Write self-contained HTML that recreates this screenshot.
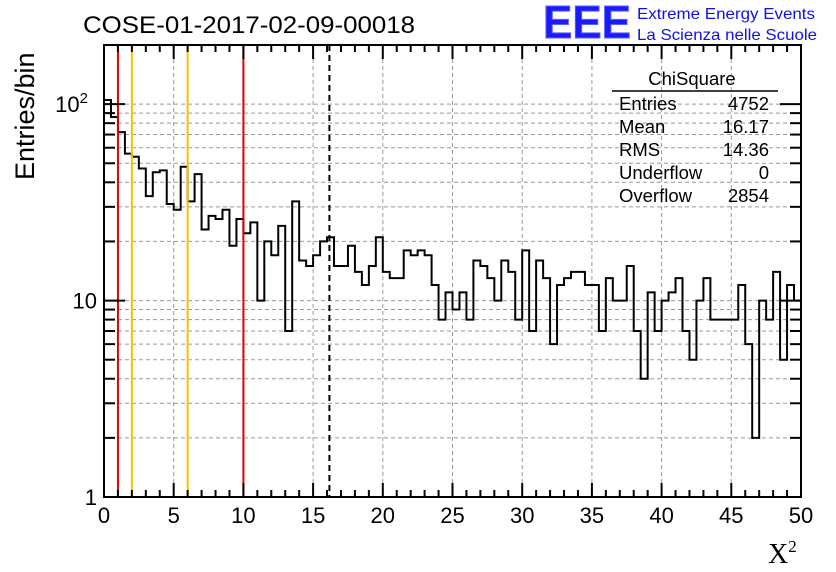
<!DOCTYPE html>
<html><head><meta charset="utf-8"><style>
body{margin:0;background:#fff;}
svg{display:block;font-family:"Liberation Sans",sans-serif;}
</style></head><body>
<svg id="c" width="836" height="572">
<text x="83" y="33" font-size="24" textLength="332" lengthAdjust="spacingAndGlyphs">COSE-01-2017-02-09-00018</text>
<g>
<text x="543" y="38" font-size="46" font-weight="bold" fill="#1a1aff" stroke="#6060ff" stroke-width="1" textLength="88" lengthAdjust="spacingAndGlyphs">EEE</text>
<text x="637" y="19" font-size="16" fill="#1010ee" textLength="178" lengthAdjust="spacingAndGlyphs">Extreme Energy Events</text>
<text x="637" y="40" font-size="16" fill="#1010ee" textLength="180" lengthAdjust="spacingAndGlyphs">La Scienza nelle Scuole</text>
</g>
<text transform="translate(34,180) rotate(-90)" font-size="27" text-anchor="start">Entries/bin</text>
<text x="768" y="563" font-size="28" font-family="Liberation Serif,serif">X<tspan font-size="17" dy="-11">2</tspan></text>
<g id="grid"></g><g id="marks"></g><g id="axes"></g>
<g font-size="18.5">
<text x="692" y="85" text-anchor="middle">ChiSquare</text>
<line x1="612" y1="91" x2="778" y2="91" stroke="#000" stroke-width="1.5"/>
<text x="619" y="110">Entries</text><text x="769" y="110" text-anchor="end">4752</text>
<text x="619" y="133">Mean</text><text x="769" y="133" text-anchor="end">16.17</text>
<text x="619" y="156">RMS</text><text x="769" y="156" text-anchor="end">14.36</text>
<text x="619" y="179">Underflow</text><text x="769" y="179" text-anchor="end">0</text>
<text x="619" y="202">Overflow</text><text x="769" y="202" text-anchor="end">2854</text>
</g>
</svg>
<script>
const counts=[105,86,72,56,54,47,34,45,46,31,29,48,32,44,23,27,26,29,19,26,22,25,10,20,17,24,7,32,16,15,17,20,21,15,15,19,14,12,15,21,14,13,13,18,17,18,17,12,8,11,9,11,8,16,15,13,10,16,14,8,18,7,16,13,6,12,13,14,14,12,12,7,13,10,10,15,7,4,11,7,10,11,13,7,5,10,13,8,8,8,8,12,6,2,10,8,14,5,12,10];
const xTicks=[0,5,10,15,20,25,30,35,40,45,50];
const vLines=[{x:1,c:"#e00000",n:"red-line-1"},{x:2,c:"#f5c000",n:"yellow-line-2"},{x:6,c:"#f5c000",n:"yellow-line-6"},{x:10,c:"#e00000",n:"red-line-10"}];
const meanVal=16.17;
const X0=104,X1=801,Y0=497,Y1=45,xmin=0,xmax=50,ymax=200;
const dec=(Y0-Y1)/Math.log10(ymax);
const sx=v=>X0+(v-xmin)/(xmax-xmin)*(X1-X0);
const sy=v=>Y0-Math.log10(v)*dec;
const NS="http://www.w3.org/2000/svg";
function mk(p,t,a){const e=document.createElementNS(NS,t);for(const k in a)e.setAttribute(k,a[k]);p.appendChild(e);return e;}
const grid=document.getElementById('grid'),marks=document.getElementById('marks'),axes=document.getElementById('axes');
xTicks.forEach(v=>{if(v>xmin&&v<xmax){const l=mk(grid,'line',{x1:sx(v),x2:sx(v),y1:Y1,y2:Y0,stroke:'#999','stroke-dasharray':'4,3'});

}});
const yt=[];for(let d=1;d<=100;d*=10)for(let m=1;m<10;m++){const v=d*m;if(v<=ymax)yt.push(v);}
yt.forEach(v=>{if(v>1){const l=mk(grid,'line',{x1:X0,x2:X1,y1:sy(v),y2:sy(v),stroke:'#999','stroke-dasharray':'4,3'});

}});
const bw=(xmax-xmin)/counts.length;
let d=`M${sx(0)},${Y0}`;
counts.forEach((c,i)=>{d+=` L${sx(i*bw)},${sy(c)} L${sx((i+1)*bw)},${sy(c)}`;});
d+=` L${sx(xmax)},${sy(counts[counts.length-1])}`;
const h=mk(marks,'path',{d:d,fill:'none',stroke:'#000','stroke-width':2});


vLines.forEach(o=>{const l=mk(marks,'line',{x1:sx(o.x),x2:sx(o.x),y1:Y1,y2:Y0,stroke:o.c,'stroke-width':2});

});
const ml=mk(marks,'line',{x1:sx(meanVal),x2:sx(meanVal),y1:Y1,y2:Y0,stroke:'#000','stroke-width':2,'stroke-dasharray':'6,4'});


const fr=mk(axes,'rect',{x:X0,y:Y1,width:X1-X0,height:Y0-Y1,fill:'none',stroke:'#000','stroke-width':2});


for(let v=xmin;v<=xmax;v++){const L=v%5===0?14:7;mk(axes,'line',{x1:sx(v),x2:sx(v),y1:Y0,y2:Y0-L,stroke:'#000','stroke-width':2});mk(axes,'line',{x1:sx(v),x2:sx(v),y1:Y1,y2:Y1+L,stroke:'#000','stroke-width':2});}
xTicks.forEach(v=>{const t=mk(axes,'text',{x:sx(v),y:Y0+26,'font-size':22,'text-anchor':'middle'});t.textContent=v;

});
yt.forEach(v=>{const L=[1,10,100].includes(v)?21:11;mk(axes,'line',{x1:X0,x2:X0+L,y1:sy(v),y2:sy(v),stroke:'#000','stroke-width':2});mk(axes,'line',{x1:X1,x2:X1-L,y1:sy(v),y2:sy(v),stroke:'#000','stroke-width':2});});
[[1,'1'],[10,'10'],[100,'10']].forEach(([v,s],i)=>{const t=mk(axes,'text',{x:i==2?88:97,y:sy(v)+8,'font-size':22,'text-anchor':'end'});t.textContent=s;
if(i==2){const sp=mk(t,'tspan',{'font-size':15,dy:-9});sp.textContent='2';}

});
</script>
</body></html>
